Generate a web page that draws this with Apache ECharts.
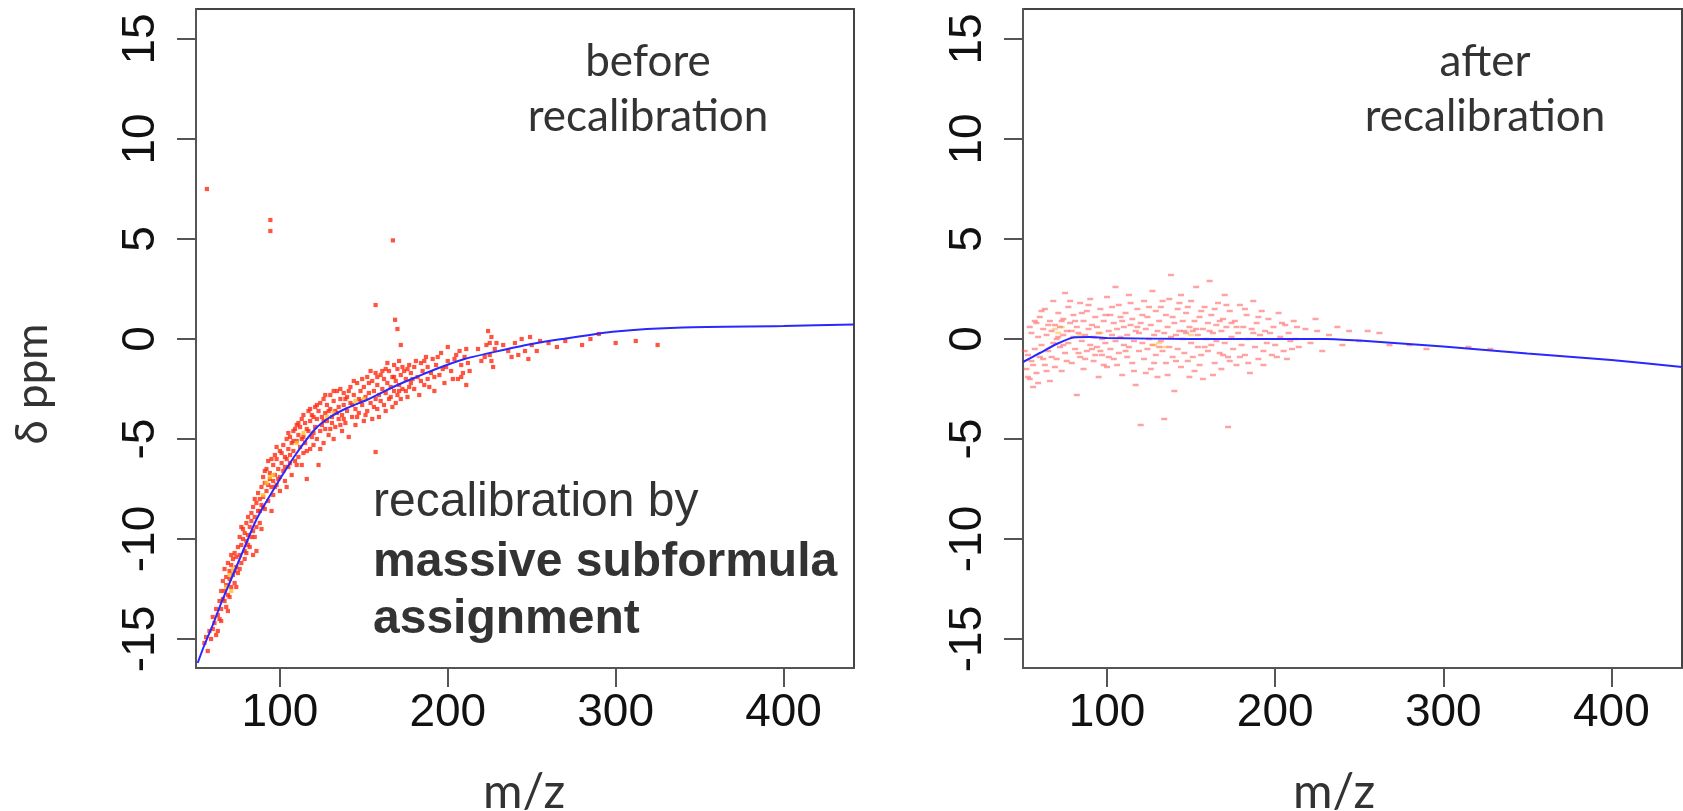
<!DOCTYPE html>
<html><head><meta charset="utf-8">
<script src="https://cdn.jsdelivr.net/npm/echarts@6/dist/echarts.min.js"></script>
<style>html,body{margin:0;padding:0;background:#fff;}#c{width:1683px;height:811px;}</style>
</head><body><div id="c"></div>
<script>
const xTicks = [100, 200, 300, 400];
const yTicks = [-15, -10, -5, 0, 5, 10, 15];

const beforePoints = [
[55,-15.2],[56,-14.9],[57,-15.6],[58,-14.6],[59,-15.0],[60,-13.9],[60,-14.5],[61,-14.2],[62,-13.5],[62,-14.8],[63,-13.8],[64,-13.1],[64,-14.0],[65,-12.6],[65,-13.5],
[66,-12.1],[66,-13.0],[67,-12.6],[67,-11.5],[68,-12.3],[68,-13.4],[68,-11.9],[69,-12.8],[69,-11.2],[70,-12.0],[70,-11.6],[70,-12.9],[71,-11.3],[71,-12.4],[72,-11.0],[72,-11.8],[73,-12.2],[73,-10.7],[74,-11.4],[74,-10.9],[75,-11.7],[75,-10.4],
[76,-10.8],[76,-9.9],[77,-10.3],[77,-11.2],[78,-10.0],[78,-9.5],[79,-10.6],[79,-9.7],[80,-9.2],[80,-10.1],[81,-9.8],[81,-8.9],[82,-9.4],[82,-10.4],[83,-8.7],[83,-9.1],[84,-9.6],[84,-8.4],[85,-8.9],[85,-9.9],[86,-8.2],[86,-10.6],
[87,-8.6],[87,-7.7],[88,-8.0],[88,-9.2],[89,-7.4],[89,-8.3],[90,-7.9],[90,-6.9],[91,-8.5],[91,-7.2],[92,-6.5],[92,-7.6],[93,-8.1],[93,-6.1],[94,-7.0],[94,-6.7],[95,-7.4],[95,-8.6],[96,-6.3],[96,-7.1],[97,-5.8],[97,-6.8],[98,-7.3],[98,-6.0],[99,-6.5],[100,-5.6],[100,-6.9],[100,-7.6],
[101,-6.2],[102,-5.3],[102,-6.6],[103,-5.9],[103,-7.1],[104,-5.0],[104,-6.0],[105,-5.5],[105,-6.4],[106,-4.9],[106,-5.8],[107,-6.8],[107,-5.2],[108,-4.6],[108,-5.6],[109,-6.1],[110,-4.3],[110,-5.1],[111,-5.9],[111,-4.8],[112,-4.4],[112,-5.4],[113,-6.3],[113,-4.0],[114,-4.9],[114,-5.7],[115,-4.2],[115,-5.2],[116,-7.0],[117,-4.6],[117,-3.6],
[118,-5.5],[118,-4.1],[119,-3.8],[120,-4.7],[120,-5.3],[121,-3.4],[121,-4.4],[122,-4.0],[122,-5.0],[123,-3.6],[123,-6.3],[124,-4.6],[124,-3.2],[125,-3.9],[125,-4.3],[126,-5.2],[126,-3.0],[127,-3.7],[127,-4.5],[128,-4.1],[128,-3.3],[129,-4.8],[130,-3.5],[130,-2.8],[131,-4.2],[131,-3.9],[132,-3.1],[132,-5.0],[133,-3.6],[133,-4.4],[134,-2.6],[135,-3.4],[135,-4.0],
[136,-3.0],[137,-3.8],[137,-4.6],[138,-2.7],[138,-3.3],[139,-4.2],[140,-2.9],[140,-3.6],[141,-4.9],[142,-2.4],[142,-3.2],[143,-3.9],[144,-2.8],[145,-3.5],[145,-4.3],[146,-2.2],[147,-3.0],[147,-3.7],[148,-2.6],[149,-3.3],[150,-4.1],[150,-2.4],[151,-2.9],[152,-3.6],[152,-1.9],[153,-2.7],[154,-3.2],[155,-2.1],[155,-4.0],[156,-2.6],[157,-3.0],[157,-1.7],[158,-2.3],[158,-3.5],[159,-2.8],[160,-1.8],[160,-3.1],
[161,-2.5],[162,-2.0],[162,-3.3],[163,-1.5],[163,-2.7],[164,-2.2],[165,-3.0],[165,-1.6],[166,-2.4],[167,-1.9],[167,-3.4],[168,-1.3],[168,-2.6],[169,-2.1],[170,-1.5],[170,-2.8],[171,-1.1],[171,-2.3],[172,-1.8],[172,-3.0],[173,-2.5],[174,-1.6],[175,-2.0],[176,-2.9],[177,-1.3],[178,-2.2],[178,-1.7],[180,-2.5],[180,-1.4],
[182,-1.9],[183,-2.8],[184,-1.2],[185,-1.6],[186,-2.3],[187,-0.9],[188,-1.4],[188,-2.0],[190,-1.7],[191,-1.0],[192,-2.6],[193,-1.3],[195,-1.8],[196,-0.7],[197,-1.5],[198,-2.2],[200,-1.1],[200,-0.4],[202,-1.6],[204,-1.0],[206,-2.0],[207,-0.6],[208,-1.3],[209,-1.7],[210,-0.9],[211,-2.3],[212,-1.2],
[218,-0.5],[220,-1.1],[224,0.4],[225,-0.2],[225,-0.8],[226,0.1],[227,-1.4],[228,-0.5],[233,-0.3],[238,-0.9],[240,-0.2],[244,0.0],[246,-0.6],[248,-1.0],[250,-0.3],[255,-0.1],
[265,-0.4],[270,-0.1],[280,-0.3],[285,0.0],[290,0.25],[300,-0.2],[312,-0.1],[325,-0.3],
[63,-14.6],[65,-14.1],[67,-13.1],[69,-13.6],[71,-10.8],[73,-11.6],[74,-12.4],[76,-11.5],[77,-9.4],[79,-11.0],[80,-10.7],[81,-10.3],[83,-9.9],[84,-10.8],[85,-8.0],[86,-9.4],[88,-8.6],[89,-9.5],[90,-8.4],[91,-6.6],[93,-7.3],[95,-6.0],[96,-7.8],[97,-7.4],[98,-5.4],[99,-7.0],
[101,-5.7],[103,-6.4],[104,-7.4],[105,-4.7],[106,-6.2],[108,-5.1],[109,-4.5],[110,-6.3],[111,-4.2],[113,-5.0],[114,-3.8],[116,-4.5],[116,-5.6],[118,-3.5],[119,-4.9],[120,-3.9],[122,-3.3],[124,-5.5],[126,-4.1],[127,-2.8],[129,-3.6],[130,-4.5],[132,-2.6],[134,-3.7],[136,-4.3],[136,-2.5],[138,-4.0],[139,-3.0],
[141,-2.6],[143,-3.3],[144,-2.1],[146,-3.9],[148,-3.1],[149,-2.0],[151,-3.8],[153,-2.2],[154,-1.6],[156,-3.4],[158,-1.9],[159,-3.9],[161,-1.6],[163,-3.6],[164,-1.2],[166,-2.9],[168,-1.9],[169,-3.2],[171,-2.6],[173,-1.4],[175,-2.6],[176,-1.5],[177,-2.4],[179,-2.0],
[181,-1.1],[184,-2.1],[186,-1.1],[189,-2.4],[192,-1.9],[194,-0.9],[199,-1.4],[203,-2.0],[205,-0.8],[208,-1.9],[211,-0.5],[213,-1.6],[222,-0.9],[223,-0.3],[226,-1.1],[229,-0.2],[236,-0.6],[242,-0.8],[249,0.1],[253,-0.6],[260,-0.2],
[56.5,7.5],[94.3,5.95],[94.3,5.4],[167.3,4.93],[157,1.7],[168.6,0.96],[170,0.5],[172,-0.3],[157,-5.65]
];
const beforeDense = [
[68,-12.4],[70,-11.8],[71,-12.6],[72,-11.5],[90,-7.8],[92,-7.2],[94,-6.9],[96,-6.8],[110,-5.2],[114,-4.7],[128,-3.9],[132,-3.7],[145,-3.1],[150,-3.0]
];
const beforeFit = [
[51,-16.2],[55,-15.3],[60,-14.3],[65,-13.2],[70,-12.2],[75,-11.2],[80,-10.2],[85,-9.2],[90,-8.4],[95,-7.7],[100,-7.0],[110,-5.7],[121,-4.5],[130,-3.9],[140,-3.45],[153,-3.0],[170,-2.3],[180,-1.95],[193,-1.5],[210,-1.0],[233,-0.55],[250,-0.25],[268,0.0],[300,0.38],[340,0.58],[400,0.65],[442,0.73]
];

const afterPoints = [
[52,-1.5],[53,-0.8],[54,-2.0],[55,-1.1],[55,0.3],[56,-2.4],[57,-0.5],[58,0.8],[58,-1.7],[59,0.1],[60,-0.9],[60,1.1],
[61,-0.3],[62,0.5],[63,-1.3],[63,1.5],[64,0.2],[65,-0.6],[66,0.9],[66,-2.1],[67,0.4],[68,-0.2],[68,1.9],[69,0.7],[70,-1.0],[70,0.0],[71,1.3],[72,-0.4],[72,0.6],[73,-1.6],[74,0.2],[74,1.0],[75,-0.7],[75,2.3],
[76,0.4],[77,-0.2],[77,1.6],[78,0.8],[79,-1.2],[80,0.1],[80,1.2],[81,-0.5],[82,0.6],[82,-2.8],[83,0.3],[84,1.8],[84,-0.9],[85,-0.1],[86,0.9],[86,-1.5],[87,0.2],[88,1.4],[88,-0.6],[89,0.5],[90,-0.3],[90,2.0],[91,0.7],[92,-1.1],[92,0.1],[93,1.1],[94,-0.4],[94,0.6],[95,-1.9],[95,0.3],
[96,1.5],[97,-0.8],[97,0.0],[98,0.9],[99,-0.2],[100,2.1],[100,-1.4],[101,0.4],[102,-0.5],[102,1.2],[103,0.2],[104,-1.0],[104,0.8],[105,2.6],[105,-0.1],[106,0.5],[107,-0.7],[107,1.7],[108,0.1],[109,-1.8],[109,0.9],[110,-0.3],[110,0.6],[111,1.3],[112,-0.9],[112,0.2],[113,2.2],[113,-0.4],[114,0.7],[115,-1.2],[115,1.0],[116,-0.1],[117,0.4],[117,-2.3],[118,1.5],[119,-0.6],[119,0.3],[120,-4.3],[120,0.8],
[121,-0.2],[122,1.9],[122,-1.0],[123,0.5],[124,-0.5],[124,1.1],[125,0.0],[126,-1.5],[126,0.7],[127,2.4],[127,-0.3],[128,0.2],[129,1.4],[129,-0.8],[130,0.4],[130,-1.9],[131,0.9],[132,-0.1],[132,1.6],[133,-0.6],[134,0.3],[134,-4.0],[135,1.2],[135,-1.2],[136,0.6],[137,-0.4],[137,2.0],[138,3.2],[138,0.1],[139,-0.9],[140,0.8],[140,-2.6],[141,0.2],[142,1.5],[142,-0.5],[143,0.4],[144,-1.4],[144,2.2],[145,0.0],[145,0.9],
[146,-0.7],[147,1.3],[147,0.3],[148,-1.1],[149,0.6],[150,-0.2],[150,1.9],[151,0.4],[152,-1.6],[152,0.9],[153,2.6],[154,-0.4],[154,0.2],[155,1.1],[156,-0.8],[157,0.5],[157,-2.0],[158,1.6],[159,0.0],[160,-0.6],[160,0.8],[161,2.9],[162,-0.3],[162,1.2],[163,0.3],[164,-1.2],[165,0.7],[165,-0.1],[166,1.8],[167,-0.7],[168,0.4],[168,-1.5],[169,1.0],[170,-0.2],[170,2.2],[171,0.6],[172,-4.4],[172,-0.9],[173,1.4],[174,0.1],[175,-0.5],
[176,0.9],[177,-1.3],[178,0.3],[179,1.7],[180,-0.3],[181,0.6],[182,-0.8],[183,1.2],[184,0.0],[185,-1.7],[186,0.5],[187,1.9],[188,-0.4],[189,0.8],[190,-1.0],[191,0.2],[192,1.4],[193,-0.6],[194,0.4],[195,-0.2],[196,1.0],[198,-0.8],[199,0.6],[200,-0.3],[202,1.3],[203,0.1],[205,-0.6],[206,0.7],[207,-1.0],[208,0.3],[210,-0.5],[211,0.9],[212,0.0],[214,-0.4],
[218,0.5],[221,-0.2],[224,1.0],[225,0.4],[228,-0.6],[232,0.2],[237,0.6],[240,-0.3],[244,0.4],[250,-0.1],[255,0.4],[262,0.3],[268,-0.3],[280,-0.3],[290,-0.5],[315,-0.4],[328,-0.5],
[51,-0.6],[53,-1.9],[54,0.6],[56,-1.3],[57,0.9],[59,-2.2],[61,1.4],[62,-1.0],[64,-1.6],[65,0.7],[67,-0.9],[69,-1.4],[71,0.1],[73,0.9],[74,-0.3],[76,-1.1],[78,1.9],[79,0.4],[81,0.9],[83,-0.7],[85,1.3],[87,-1.0],[89,1.7],[91,-0.5],[93,-0.8],[96,-0.6],[98,-1.3],[99,1.2],
[101,-0.9],[103,1.6],[106,-1.3],[108,1.1],[111,-0.6],[114,1.8],[116,-1.6],[118,0.6],[121,1.2],[123,-1.7],[125,1.6],[128,-1.2],[131,-0.4],[133,1.9],[136,-1.8],[139,1.1],[141,-1.1],[143,1.8],[146,0.4],[148,1.6],[149,-1.9],
[151,-0.9],[153,0.5],[155,-1.3],[156,1.4],[158,-0.4],[161,0.4],[163,-1.8],[164,1.5],[167,0.9],[169,-0.8],[171,1.7],[173,-1.1],[174,0.8],[177,0.6],[179,-0.9],[182,1.5],[184,-1.2],[187,0.3],[190,1.1],[193,-1.3],[197,0.3],[201,-0.9],[204,0.8],[209,-0.1],[213,0.6]
];
const afterDense = [
[69,0.5],[71,0.3],[73,0.6],[84,0.2],[96,0.3],[128,-0.3],[131,-0.2],[134,-0.4],[150,0.2]
];
const afterFit = [
[50,-1.15],[60,-0.7],[70,-0.25],[80,0.08],[90,0.1],[100,0.05],[150,0.0],[200,0.0],[230,0.0],[250,-0.08],[300,-0.38],[350,-0.72],[400,-1.05],[442,-1.4]
];

const AX = '#555';
function xAx(gi){
  return {type:'value',gridIndex:gi,min:50,max:442,
    axisLine:{show:true,onZero:false,lineStyle:{color:AX,width:2}},
    axisTick:{show:true,length:19,customValues:xTicks,lineStyle:{color:AX,width:2}},
    axisLabel:{customValues:xTicks,fontSize:46,fontFamily:'Liberation Sans, Arial, sans-serif',color:'#111',margin:22},
    splitLine:{show:false}};
}
function yAx(gi){
  return {type:'value',gridIndex:gi,min:-16.45,max:16.5,
    axisLine:{show:true,onZero:false,lineStyle:{color:AX,width:2}},
    axisTick:{show:true,length:19,customValues:yTicks,lineStyle:{color:AX,width:2}},
    axisLabel:{customValues:yTicks,rotate:90,fontSize:46,fontFamily:'Liberation Sans, Arial, sans-serif',color:'#111',margin:32},
    splitLine:{show:false}};
}
const chart = echarts.init(document.getElementById('c'), null, {renderer:'canvas'});
function txt(x, y, t, font, align, rot) {
  return {type:'text', x:x, y:y, rotation:rot||0,
    style:{text:t, fill:'#333', font:font, textAlign:align||'center', textVerticalAlign:'middle'}};
}
const CAL = 'Lato, "Open Sans", sans-serif';
const ARI = '"Liberation Sans", Arial, sans-serif';
chart.setOption({
  animation:false,
  backgroundColor:'#fff',
  grid:[
    {left:196,top:9,width:658,height:659,show:true,borderColor:'#444',borderWidth:2,containLabel:false},
    {left:1023,top:9,width:659,height:659,show:true,borderColor:'#444',borderWidth:2,containLabel:false}
  ],
  xAxis:[xAx(0),xAx(1)],
  yAxis:[yAx(0),yAx(1)],
  series:[
    {type:'scatter',xAxisIndex:0,yAxisIndex:0,data:beforePoints,symbol:'rect',symbolSize:4.2,itemStyle:{color:'#ff2a10'},z:2},
    {type:'scatter',xAxisIndex:0,yAxisIndex:0,data:beforeDense,symbol:'rect',symbolSize:4.2,itemStyle:{color:'#ffc020'},z:3},
    {type:'line',xAxisIndex:0,yAxisIndex:0,data:beforeFit,smooth:0.25,showSymbol:false,lineStyle:{color:'#2828ff',width:2},z:4},
    {type:'scatter',xAxisIndex:1,yAxisIndex:1,data:afterPoints,symbol:'rect',symbolSize:[6,2.5],itemStyle:{color:'rgba(255,60,60,0.6)'},z:2},
    {type:'scatter',xAxisIndex:1,yAxisIndex:1,data:afterDense,symbol:'rect',symbolSize:[6,2.5],itemStyle:{color:'rgba(255,170,40,0.6)'},z:3},
    {type:'line',xAxisIndex:1,yAxisIndex:1,data:afterFit,smooth:0.2,showSymbol:false,lineStyle:{color:'#2828ff',width:2},z:4}
  ],
  graphic:[
    txt(33, 384, 'δ ppm', '44px ' + CAL, 'center', Math.PI/2),
    txt(648, 62, 'before', '44px ' + CAL),
    txt(648, 117, 'recalibration', '44px ' + CAL),
    txt(1485, 62, 'after', '44px ' + CAL),
    txt(1485, 117, 'recalibration', '44px ' + CAL),
    txt(524, 793, 'm/z', '48px ' + CAL),
    txt(1334, 793, 'm/z', '48px ' + CAL),
    txt(373, 503, 'recalibration by', '48px ' + ARI, 'left'),
    txt(373, 563, 'massive subformula', 'bold 48px ' + ARI, 'left'),
    txt(373, 620, 'assignment', 'bold 48px ' + ARI, 'left')
  ]
});
</script>
</body></html>
